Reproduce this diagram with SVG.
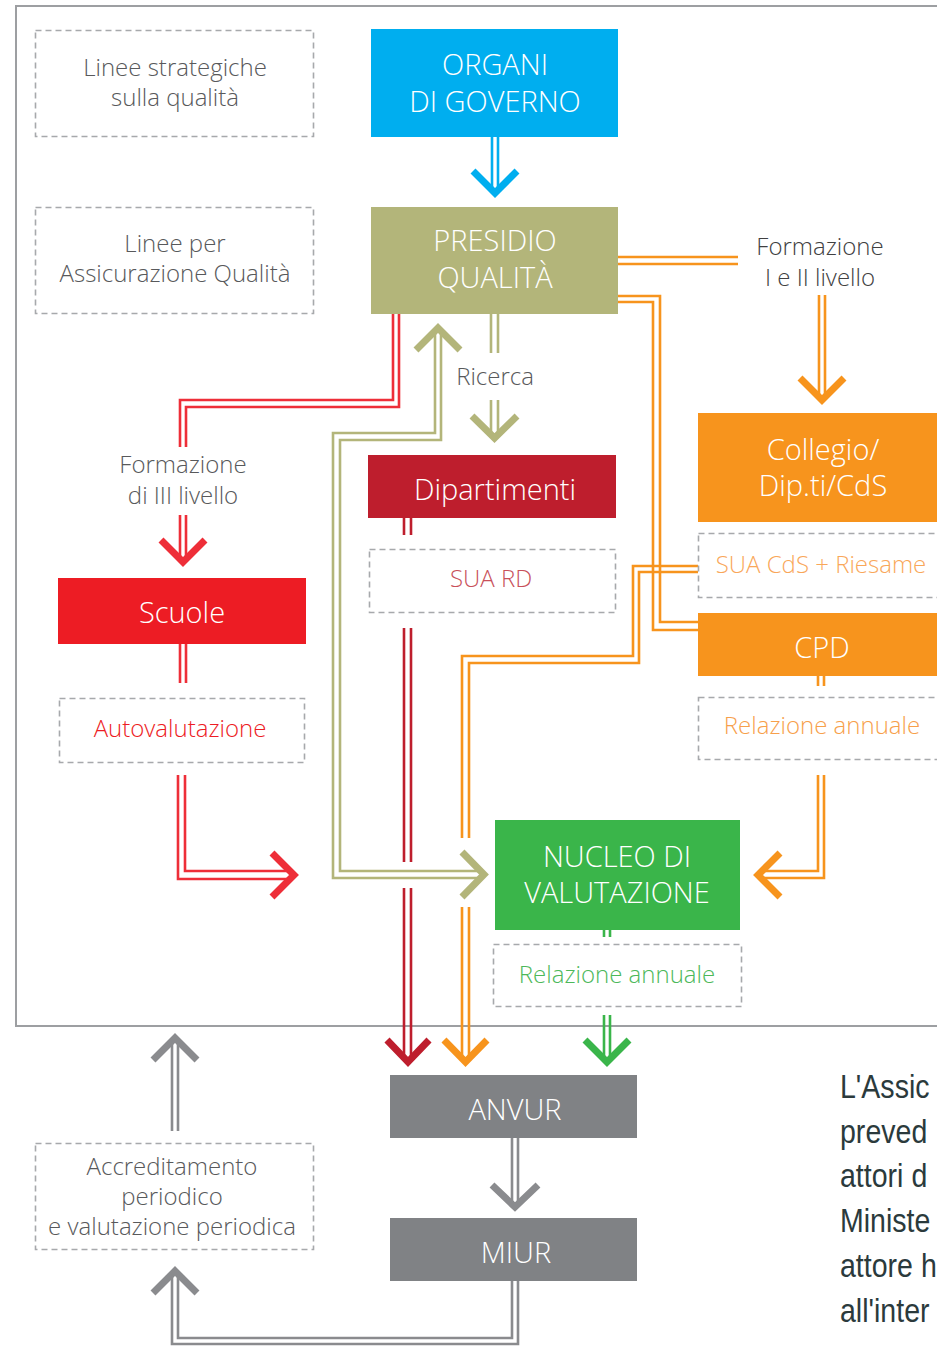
<svg xmlns="http://www.w3.org/2000/svg" width="937" height="1348" viewBox="0 0 937 1348">
<style>
.lbl{font-family:"Open Sans","DejaVu Sans",sans-serif;font-size:24px;font-weight:300;text-anchor:middle}
.hdr{font-family:"Open Sans","DejaVu Sans",sans-serif;font-size:29px;font-weight:300;text-anchor:middle;fill:#fff}
.dash{fill:#fff;stroke:#a7a9ac;stroke-width:1.6;stroke-dasharray:6 4}
.ln{fill:none;stroke-width:2.6}
.chev{fill:none;stroke-width:7;stroke-linejoin:miter;stroke-miterlimit:4}
.blue{stroke:#00aeef}.olive{stroke:#b3b57a}.red{stroke:#ee2e38}.dred{stroke:#be1e2d}.orange{stroke:#f7941d}.green{stroke:#3ab54a}.gray{stroke:#8a8b8e}
.body{font-family:"Liberation Sans","Roboto",sans-serif;font-size:34px;fill:#2b3a3c}
</style>
<rect width="937" height="1348" fill="#fff"/>
<g id="frame"><path d="M937 6 H16 V1026 H937" fill="none" stroke="#9d9fa2" stroke-width="2"/></g>

<g id="connectors">
<path class="ln blue" d="M492 137V190M498 137V190"/>
<path class="chev blue" d="M473 171L495 193L517 171"/>
<path class="ln olive" d="M491 314V353M498 314V353M491 400V436M498 400V436"/>
<path class="chev olive" d="M472 416L494.5 438L517 416"/>
<path class="ln olive" d="M435 332V433H333V878H481M441 332V440H340V871H481"/>
<path class="chev olive" d="M416 350L438 328L460 350"/>
<path class="chev olive" d="M462 852L484 874.5L462 897"/>
<path class="ln red" d="M393 314V400H180V447M399 314V407H186V447M180 515V560M186 515V560"/>
<path class="chev red" d="M161 540L183 562L205 540"/>
<path class="ln red" d="M180 644V683M186 644V683"/>
<path class="ln red" d="M178 775V879H293M185 775V871H293"/>
<path class="chev red" d="M272 853L294 875L272 897"/>
<path class="ln dred" d="M404 518V535M411 518V535"/>
<path class="ln dred" d="M404 628V862M411 628V862M404 888V1058M411 888V1058"/>
<path class="chev dred" d="M387 1040L408 1062L429 1040"/>
<path class="ln orange" d="M618 257H738M618 264H738M819 295V398M825 295V398"/>
<path class="chev orange" d="M800 378L822 400L844 378"/>
<path class="ln orange" d="M618 296H660V622H698M618 302H653V630H698"/>
<path class="ln orange" stroke-width="3.5" d="M698 566H633V656H462V838M698 572H639V663H469V838M462 907V1058M469 907V1058"/>
<path class="chev orange" d="M444 1040L465.5 1062L487 1040"/>
<path class="ln orange" d="M818 676V686M824 676V686"/>
<path class="ln orange" d="M824 775V878H762M818 775V871H762"/>
<path class="chev orange" d="M780 853L758 875L780 897"/>
<path class="ln green" d="M604 930V937M610 930V937M604 1015V1058M610 1015V1058"/>
<path class="chev green" d="M585 1040L607 1062L629 1040"/>
<path class="ln gray" d="M512 1138V1205M518 1138V1205"/>
<path class="chev gray" d="M492 1185L515 1207L538 1185"/>
<path class="ln gray" d="M518 1281V1344H172V1273M512 1281V1338H178V1273"/>
<path class="chev gray" d="M153 1293L175 1271L197 1293"/>
<path class="ln gray" d="M172 1131V1042M178 1131V1042"/>
<path class="chev gray" d="M153 1060L175 1038L197 1060"/>
</g>

<g id="linee-strategiche">
<rect class="dash" x="35.5" y="30.5" width="278" height="106"/>
<text class="lbl" fill="#58595b" x="175" y="76">Linee strategiche<tspan x="175" dy="30">sulla qualità</tspan></text>
</g>
<g id="linee-aq">
<rect class="dash" x="35.5" y="207.5" width="278" height="106"/>
<text class="lbl" fill="#58595b" x="175" y="252">Linee per<tspan x="175" dy="30">Assicurazione Qualità</tspan></text>
</g>
<g id="organi">
<rect x="371" y="29" width="247" height="108" fill="#00aeef"/>
<text class="hdr" x="495" y="75">ORGANI<tspan x="495" dy="36.5">DI GOVERNO</tspan></text>
</g>
<g id="presidio">
<rect x="371" y="207" width="247" height="107" fill="#b3b57a"/>
<text class="hdr" x="495" y="251">PRESIDIO<tspan x="495" dy="36.5">QUALITÀ</tspan></text>
</g>
<g id="label-formazione-12">
<text class="lbl" fill="#404041" x="820" y="255">Formazione<tspan x="820" dy="31">I e II livello</tspan></text>
</g>
<g id="label-ricerca">
<text class="lbl" fill="#58595b" x="495" y="385">Ricerca</text>
</g>
<g id="label-formazione-3">
<text class="lbl" fill="#58595b" x="183" y="473">Formazione<tspan x="183" dy="30.5">di III livello</tspan></text>
</g>
<g id="collegio">
<rect x="698" y="413" width="239" height="109" fill="#f7941d"/>
<text class="hdr" x="823" y="460">Collegio/<tspan x="823" dy="36">Dip.ti/CdS</tspan></text>
</g>
<g id="sua-cds">
<rect class="dash" x="698.5" y="533.5" width="245" height="64"/>
<text class="lbl" fill="#f9a75a" x="821" y="573">SUA CdS + Riesame</text>
</g>
<g id="cpd">
<rect x="698" y="613" width="239" height="63" fill="#f7941d"/>
<text class="hdr" x="822" y="658">CPD</text>
</g>
<g id="relazione-cpd">
<rect class="dash" x="698.5" y="697.5" width="245" height="62"/>
<text class="lbl" fill="#f7a04b" x="822" y="734">Relazione annuale</text>
</g>
<g id="dipartimenti">
<rect x="368" y="455" width="248" height="63" fill="#be1e2d"/>
<text class="hdr" x="495" y="500">Dipartimenti</text>
</g>
<g id="sua-rd">
<rect class="dash" x="369.5" y="549.5" width="246" height="63"/>
<text class="lbl" fill="#c8505a" x="491" y="587">SUA RD</text>
</g>
<g id="scuole">
<rect x="58" y="578" width="248" height="66" fill="#ed1c24"/>
<text class="hdr" x="182" y="623">Scuole</text>
</g>
<g id="autovalutazione">
<rect class="dash" x="59.5" y="698.5" width="245" height="64"/>
<text class="lbl" fill="#ed1c24" x="180" y="737">Autovalutazione</text>
</g>
<g id="nucleo">
<rect x="495" y="820" width="245" height="110" fill="#3ab54a"/>
<text class="hdr" x="617" y="867">NUCLEO DI<tspan x="617" dy="36">VALUTAZIONE</tspan></text>
</g>
<g id="relazione-nucleo">
<rect class="dash" x="493.5" y="944.5" width="248" height="62"/>
<text class="lbl" fill="#4cb85a" x="617" y="983">Relazione annuale</text>
</g>
<g id="anvur">
<rect x="390" y="1075" width="247" height="63" fill="#808285"/>
<text class="hdr" x="515" y="1120">ANVUR</text>
</g>
<g id="miur">
<rect x="390" y="1218" width="247" height="63" fill="#808285"/>
<text class="hdr" x="516" y="1263">MIUR</text>
</g>
<g id="accreditamento">
<rect class="dash" x="35.5" y="1143.5" width="278" height="106"/>
<text class="lbl" fill="#58595b" x="172" y="1175">Accreditamento<tspan x="172" dy="30">periodico</tspan><tspan x="172" dy="30">e valutazione periodica</tspan></text>
</g>
<g id="body-text" class="body">
<text transform="translate(840 1098) scale(0.84 1)">L'Assic<tspan x="0" dy="45">preved</tspan><tspan x="0" dy="44">attori d</tspan><tspan x="0" dy="45">Ministe</tspan><tspan x="0" dy="45">attore h</tspan><tspan x="0" dy="45">all'inter</tspan></text>
</g>
</svg>
